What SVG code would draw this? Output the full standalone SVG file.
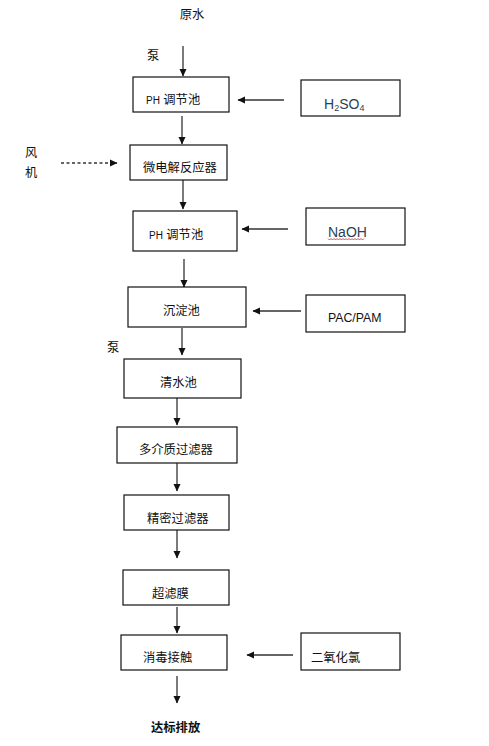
<svg xmlns="http://www.w3.org/2000/svg" width="489" height="746" viewBox="0 0 489 746">
<style>
  text { font-family: "Liberation Sans", "Noto Sans CJK SC", sans-serif; font-size: 12.3px; fill: #111; }
  .box { fill: #fff; stroke: #111; stroke-width: 1.2; }
  .ln { stroke: #333; stroke-width: 1.3; fill: none; }
  .dash { stroke: #333; stroke-width: 1.3; fill: none; stroke-dasharray: 3 2.5; }
  .chem { fill: #2b3f55; font-size: 14px; }
  .sm { font-size: 10px; }
  .bold { font-weight: bold; }
</style>
<defs>
  <marker id="ah" markerWidth="8" markerHeight="8" refX="7" refY="4" orient="auto" markerUnits="userSpaceOnUse">
    <path d="M0,0.5 L7.5,4 L0,7.5 Z" fill="#111"/>
  </marker>
</defs>
<rect width="489" height="746" fill="#fff"/>

<g id="connectors">
  <line class="ln" x1="183" y1="46" x2="183" y2="76" marker-end="url(#ah)"/>
  <line class="ln" x1="284" y1="100" x2="238" y2="100" marker-end="url(#ah)"/>
  <line class="ln" x1="182" y1="116" x2="182" y2="144" marker-end="url(#ah)"/>
  <line class="dash" x1="61" y1="163" x2="117" y2="163" marker-end="url(#ah)"/>
  <line class="ln" x1="183" y1="180" x2="183" y2="209" marker-end="url(#ah)"/>
  <line class="ln" x1="288" y1="229" x2="242" y2="229" marker-end="url(#ah)"/>
  <line class="ln" x1="184" y1="259" x2="184" y2="287" marker-end="url(#ah)"/>
  <line class="ln" x1="301" y1="311" x2="253" y2="311" marker-end="url(#ah)"/>
  <line class="ln" x1="182" y1="328" x2="182" y2="355" marker-end="url(#ah)"/>
  <line class="ln" x1="177" y1="398" x2="177" y2="425" marker-end="url(#ah)"/>
  <line class="ln" x1="177" y1="463" x2="177" y2="491" marker-end="url(#ah)"/>
  <line class="ln" x1="177" y1="530" x2="177" y2="558" marker-end="url(#ah)"/>
  <line class="ln" x1="177" y1="607" x2="177" y2="633" marker-end="url(#ah)"/>
  <line class="ln" x1="293" y1="655" x2="247" y2="655" marker-end="url(#ah)"/>
  <line class="ln" x1="177" y1="676" x2="177" y2="703" marker-end="url(#ah)"/>
</g>

<g id="label-yuanshui"><text x="192" y="19" text-anchor="middle">原水</text></g>
<g id="label-beng1"><text x="147" y="60">泵</text></g>
<g id="label-fengji"><text x="25" y="157">风</text><text x="25" y="177">机</text></g>
<g id="label-beng2"><text x="107" y="352">泵</text></g>

<g id="n-ph1">
  <rect class="box" x="133" y="77" width="96" height="35"/>
  <text x="146" y="104"><tspan class="sm">PH</tspan> 调节池</text>
</g>
<g id="n-h2so4">
  <rect class="box" x="301" y="80" width="99" height="36"/>
  <text class="chem" x="324" y="109">H<tspan font-size="9" dy="2">2</tspan><tspan dy="-2">SO</tspan><tspan font-size="9" dy="2">4</tspan></text>
</g>
<g id="n-weidianjie">
  <rect class="box" x="130" y="145" width="97" height="35"/>
  <text x="143" y="172">微电解反应器</text>
</g>
<g id="n-ph2">
  <rect class="box" x="133" y="211" width="104" height="40"/>
  <text x="149" y="239"><tspan class="sm">PH</tspan> 调节池</text>
</g>
<g id="n-naoh">
  <rect class="box" x="306" y="208" width="99" height="37"/>
  <text class="chem" x="328" y="237">NaOH</text>
  <path d="M328,238.5 l1.5,1.5 l1.5,-1.5 l1.5,1.5 l1.5,-1.5 l1.5,1.5 l1.5,-1.5 l1.5,1.5 l1.5,-1.5 l1.5,1.5 l1.5,-1.5 l1.5,1.5 l1.5,-1.5 l1.5,1.5 l1.5,-1.5 l1.5,1.5 l1.5,-1.5 l1.5,1.5 l1.5,-1.5 l1.5,1.5 l1.5,-1.5 l1.5,1.5 l1.5,-1.5 l1.5,1.5 l1.5,-1.5" fill="none" stroke="#d02020" stroke-width="0.8"/>
</g>
<g id="n-chendian">
  <rect class="box" x="128" y="287" width="118" height="40"/>
  <text x="163" y="315">沉淀池</text>
</g>
<g id="n-pac">
  <rect class="box" x="306" y="295" width="99" height="37"/>
  <text x="328" y="322" font-size="10.5">PAC/PAM</text>
</g>
<g id="n-qingshui">
  <rect class="box" x="124" y="359" width="117" height="39"/>
  <text x="160" y="387">清水池</text>
</g>
<g id="n-duojiezhi">
  <rect class="box" x="117" y="427" width="120" height="36"/>
  <text x="139" y="454">多介质过滤器</text>
</g>
<g id="n-jingmi">
  <rect class="box" x="124" y="495" width="105" height="35"/>
  <text x="147" y="523">精密过滤器</text>
</g>
<g id="n-chaolv">
  <rect class="box" x="123" y="570" width="106" height="35"/>
  <text x="152" y="598">超滤膜</text>
</g>
<g id="n-xiaodu">
  <rect class="box" x="121" y="635" width="106" height="35"/>
  <text x="143" y="662">消毒接触</text>
</g>
<g id="n-clo2">
  <rect class="box" x="301" y="633" width="99" height="37"/>
  <text x="311" y="662">二氧化氯</text>
</g>
<g id="label-dabiao"><text class="bold" x="151" y="732" font-size="12.5">达标排放</text></g>
</svg>
